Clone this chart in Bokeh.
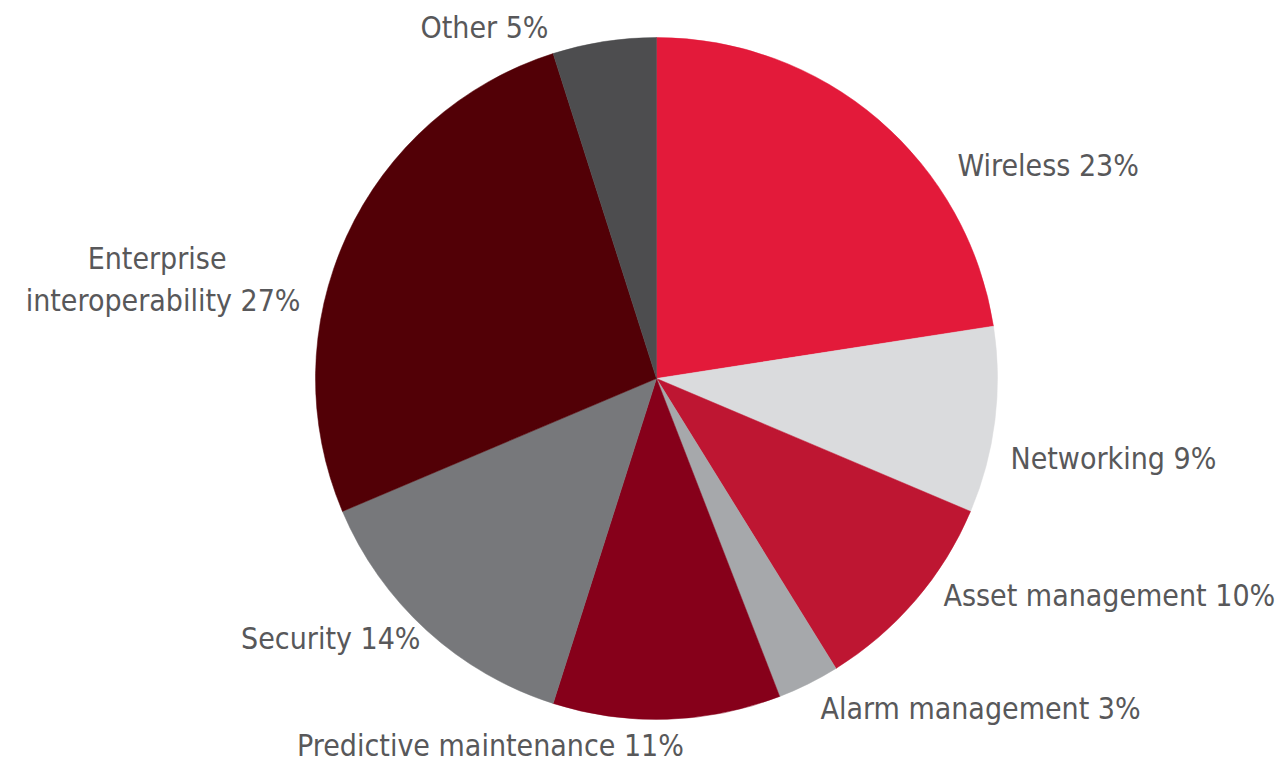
import numpy as np
from bokeh.plotting import figure
from bokeh.models import ColumnDataSource, Range1d
from bokeh.core.properties import value
from bokeh.embed import file_html
from bokeh.resources import INLINE

# ---- data ----
categories = ["Wireless", "Networking", "Asset management", "Alarm management",
              "Predictive maintenance", "Security", "Enterprise interoperability", "Other"]
shares = [23, 9, 10, 3, 11, 14, 27, 5]
colors = ["#E31A3A", "#DADBDD", "#BE1632", "#A6A8AB", "#86001A", "#77787B", "#520006", "#4D4D4F"]
label_lines = [["Wireless 23%"], ["Networking 9%"], ["Asset management 10%"],
               ["Alarm management 3%"], ["Predictive maintenance 11%"], ["Security 14%"],
               ["Enterprise", "interoperability 27%"], ["Other 5%"]]

# ---- layout (page pixel coordinates, y measured from top) ----
W, H = 1279, 766
CX, CY, R = 656, 378, 341
label_anchor = [  # (x, y_center, align) for each line
    [(957, 165, "left")],
    [(1010, 458, "left")],
    [(943, 595, "left")],
    [(820, 708, "left")],
    [(490, 745, "center")],
    [(420, 638, "right")],
    [(226, 258, "right"), (300, 300, "right")],
    [(548, 27, "right")],
]

def py(y):
    return H - y

p = figure(width=W, height=H, output_backend="svg", toolbar_location=None,
           x_range=Range1d(0, W), y_range=Range1d(0, H), min_border=0)
p.axis.visible = False
p.grid.visible = False
p.outline_line_color = None
p.background_fill_color = "white"
p.border_fill_color = "white"

vals = np.array(shares, dtype=float)
frac = vals / vals.sum()
cum = np.concatenate([[0], np.cumsum(frac)])
start = np.pi / 2 - 2 * np.pi * cum[:-1]
end = np.pi / 2 - 2 * np.pi * cum[1:]

src = ColumnDataSource(dict(x=[CX] * len(shares), y=[py(CY)] * len(shares),
                            start=start, end=end, color=colors, cat=categories))
p.wedge(x="x", y="y", radius=R, start_angle="start", end_angle="end",
        direction="clock", fill_color="color", line_color="color", line_width=0.5,
        source=src)

for lines, anchors in zip(label_lines, label_anchor):
    for txt, (x, y, al) in zip(lines, anchors):
        p.text(x=[x], y=[py(y)], text=[txt], text_align=al, text_baseline="middle",
               text_font=value("DejaVu Sans Condensed, Liberation Sans"), text_font_size="30px",
               text_color="#58585A")

open("out.html", "w").write(file_html(p, INLINE))
